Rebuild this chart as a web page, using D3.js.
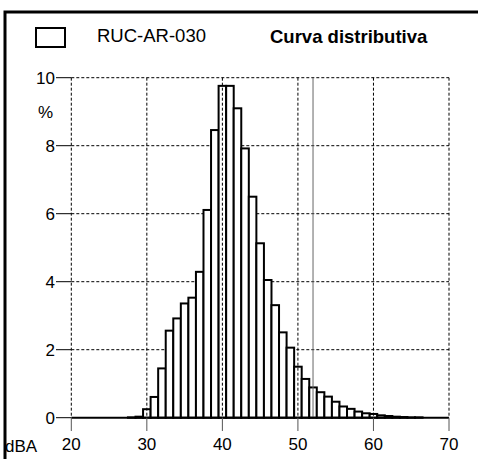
<!DOCTYPE html>
<html lang="en">
<head>
<meta charset="UTF-8">
<title>Curva distributiva</title>
<script src="https://d3js.org/d3.v7.min.js"></script>
<style>
  body { margin: 0; background: #fff; }
  svg text { font-family: "Liberation Sans", Arial, sans-serif; font-size: 17px; fill: #000; }
  .legend-text { font-size: 18.5px; }
  .grid { stroke: #000; stroke-width: 1; stroke-dasharray: 3,2; fill: none; }
  .bar { fill: #fff; stroke: #000; stroke-width: 2; }
</style>
</head>
<body>
<div id="chart"></div>
<script>
// level classes (dBA) and share of time (%)
const levels = [28, 29, 30, 31, 32, 33, 34, 35, 36, 37, 38, 39, 40, 41, 42, 43, 44, 45, 46, 47,
                48, 49, 50, 51, 52, 53, 54, 55, 56, 57, 58, 59, 60, 61, 62, 63, 64, 65, 66];
const percent = [0.01, 0.03, 0.25, 0.61, 1.45, 2.56, 2.92, 3.36, 3.53, 4.29, 6.11, 8.46, 9.76, 9.76, 9.10, 7.92, 6.50, 5.13, 4.05, 3.31,
                 2.51, 2.06, 1.50, 1.14, 0.89, 0.75, 0.62, 0.47, 0.33, 0.26, 0.18, 0.13, 0.11, 0.07, 0.05, 0.03, 0.02, 0.01, 0.01];
const xTicks = [20, 30, 40, 50, 60, 70];
const yTicks = [0, 2, 4, 6, 8, 10];
const markerLevel = 52;
const seriesName = "RUC-AR-030";
const title = "Curva distributiva";

const W = 478, H = 459;
const svg = d3.select("#chart").append("svg").attr("width", W).attr("height", H);

const x = d3.scaleLinear().domain([20, 70]).range([71.3, 449]);
const y = d3.scaleLinear().domain([0, 10]).range([417.7, 77.7]);

// outer frame (clipped by the window on right and bottom)
svg.append("rect").attr("x", 5).attr("y", 12).attr("width", 490).attr("height", 470)
   .attr("fill", "none").attr("stroke", "#000").attr("stroke-width", 3);

// legend
svg.append("rect").attr("x", 36).attr("y", 28).attr("width", 29).attr("height", 19)
   .attr("fill", "#fff").attr("stroke", "#000").attr("stroke-width", 2);
svg.append("text").attr("class", "legend-text").attr("x", 97).attr("y", 42).text(seriesName);
svg.append("text").attr("class", "legend-text").attr("x", 270).attr("y", 43)
   .attr("font-weight", "bold").text(title);

// horizontal grid
svg.append("g").selectAll("line").data(yTicks.filter(d => d > 0)).join("line")
   .attr("class", "grid")
   .attr("x1", x(20)).attr("x2", x(70))
   .attr("y1", d => y(d)).attr("y2", d => y(d));

// y ticks and labels
const yAxis = svg.append("g");
yAxis.selectAll("line").data(yTicks).join("line")
   .attr("x1", 56).attr("x2", x(20))
   .attr("y1", d => y(d)).attr("y2", d => y(d))
   .attr("stroke", "#000").attr("stroke-width", 1);
yAxis.selectAll("text").data(yTicks).join("text")
   .attr("x", 55).attr("y", d => y(d) + 6).attr("text-anchor", "end")
   .text(d => d);
svg.append("text").attr("x", 38).attr("y", 118).text("%");

// bars, one dBA wide, centred on each level
const bw = x(1) - x(0);
svg.append("g").selectAll("rect").data(levels).join("rect")
   .attr("class", "bar")
   .attr("x", d => x(d) - bw / 2)
   .attr("width", bw)
   .attr("y", (d, i) => y(percent[i]))
   .attr("height", (d, i) => y(0) - y(percent[i]));

// vertical grid on top of bars
svg.append("g").selectAll("line").data(xTicks).join("line")
   .attr("class", "grid")
   .attr("x1", d => x(d)).attr("x2", d => x(d))
   .attr("y1", y(10)).attr("y2", y(0));

// marker line
svg.append("line")
   .attr("x1", x(markerLevel)).attr("x2", x(markerLevel))
   .attr("y1", y(10)).attr("y2", y(0))
   .attr("stroke", "#666").attr("stroke-width", 1);

// baseline
svg.append("line").attr("x1", x(20)).attr("x2", x(70)).attr("y1", y(0)).attr("y2", y(0))
   .attr("stroke", "#000").attr("stroke-width", 2);

// x ticks and labels
const xAxis = svg.append("g");
xAxis.selectAll("line").data(xTicks).join("line")
   .attr("x1", d => x(d)).attr("x2", d => x(d))
   .attr("y1", y(0)).attr("y2", 431)
   .attr("stroke", "#555").attr("stroke-width", 1);
xAxis.selectAll("text").data(xTicks).join("text")
   .attr("x", d => x(d)).attr("y", 450).attr("text-anchor", "middle")
   .text(d => d);
svg.append("text").attr("x", 5).attr("y", 452).text("dBA");
</script>
</body>
</html>
